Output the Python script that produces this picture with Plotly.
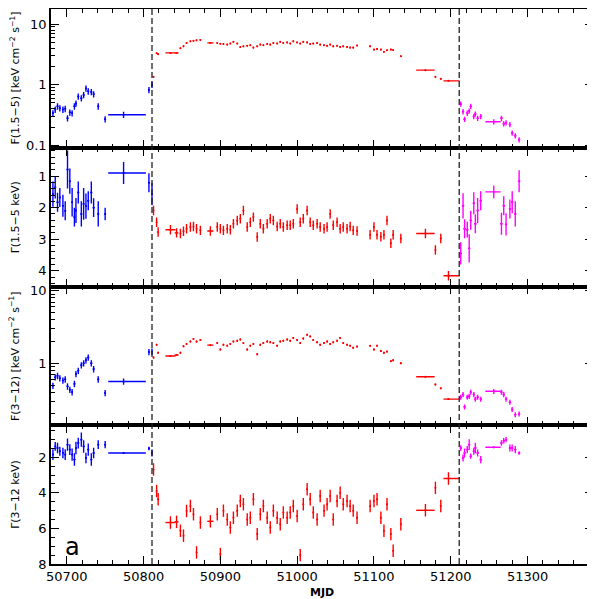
import plotly.graph_objects as go
from plotly.subplots import make_subplots

# ---- data ----
# blue: before first outburst marker
blue_mjd = [50682, 50685, 50688, 50691, 50695, 50698, 50701, 50704, 50707, 50710, 50712, 50715,
            50719, 50722, 50725, 50728, 50732, 50735, 50741, 50750, 50774, 50807, 50811]
blue_dt_lo = [1.2] * 20 + [20, 1.2, 1.2]
blue_dt_hi = [1.2] * 20 + [29, 1.2, 1.2]
blue_f1 = [0.34, 0.39, 0.44, 0.41, 0.39, 0.40, 0.28, 0.35, 0.34, 0.44, 0.49, 0.64,
           0.60, 0.68, 0.87, 0.78, 0.76, 0.70, 0.44, 0.27, 0.32, 0.82, 1.0]
blue_g1 = [1.57, 1.36, 1.83, 1.68, 1.94, 2.1, 0.79, 1.16, 1.83, 2.3, 2.09, 1.52,
           2.2, 1.88, 1.95, 1.78, 1.52, 2.0, 2.2, 2.2, 0.9, 1.21, 1.57]
blue_g1_err = [0.4, 0.35, 0.3, 0.3, 0.35, 0.3, 0.6, 0.4, 0.45, 0.3, 0.4, 0.35,
               0.4, 0.5, 0.4, 0.3, 0.35, 0.3, 0.4, 0.2, 0.35, 0.3, 0.35]
blue_f2 = [0.49, 0.64, 0.67, 0.62, 0.58, 0.60, 0.48, 0.43, 0.40, 0.52, 0.71, 0.79,
           0.94, 1.0, 1.1, 1.2, 1.0, 0.83, 0.60, 0.39, 0.56, 1.43, 1.45]
blue_g2 = [1.85, 1.39, 1.48, 1.66, 1.76, 1.85, 1.29, 1.57, 1.85, 2.13, 1.48, 1.2,
           1.01, 1.39, 2.04, 1.57, 2.13, 1.76, 1.29, 1.29, 1.76, 1.51, 1.76]
blue_g2_err = [0.3, 0.25, 0.3, 0.25, 0.3, 0.3, 0.35, 0.3, 0.35, 0.35, 0.35, 0.3,
               0.4, 0.35, 0.3, 0.35, 0.35, 0.3, 0.25, 0.2, 0.05, 0.1, 0.2]

# red: outburst
red_mjd = [50813, 50817, 50819, 50835, 50843, 50848, 50852, 50856, 50861, 50865, 50869, 50874, 50887,
           50896, 50900, 50904, 50909, 50913, 50917, 50922, 50926, 50930, 50935, 50939, 50943, 50948,
           50952, 50956, 50961, 50965, 50969, 50974, 50978, 50982, 50987, 50991, 50995, 51000, 51004,
           51008, 51013, 51017, 51021, 51026, 51030, 51035, 51039, 51043, 51047, 51052, 51056, 51060,
           51065, 51069, 51073, 51078,
           51095, 51100, 51104, 51109, 51113, 51117, 51122, 51125, 51135, 51167, 51180, 51187, 51197]
red_dt_lo = [0.5, 0.5, 0.5, 6.5, 2.5, 0.5, 0.5, 0.5, 0.5, 0.5, 0.5, 0.5, 4] + [0.5] * 43 + \
            [0.5] * 9 + [12, 0.5, 0.5, 6.5]
red_dt_hi = [0.5, 0.5, 0.5, 6.5, 2.5, 0.5, 0.5, 0.5, 0.5, 0.5, 0.5, 0.5, 4] + [0.5] * 43 + \
            [0.5] * 9 + [12, 0.5, 0.5, 14.5]
red_f1 = [1.35, 3.3, 3.2, 3.35, 3.35, 4.0, 4.3, 4.9, 5.2, 5.3, 5.4, 5.5, 4.9,
          4.9, 4.75, 4.7, 4.6, 4.8, 5.1, 4.8, 4.2, 4.3, 4.4, 4.5, 4.1, 4.3, 4.6, 4.5, 4.7, 4.6,
          4.9, 4.8, 5.1, 4.9, 5.0, 4.8, 5.2, 5.0, 4.8, 5.1, 5.0, 4.7, 4.8, 4.9, 4.6, 4.5, 4.4,
          4.6, 4.3, 4.4, 4.2, 4.3, 4.2, 4.1, 4.1, 4.45,
          4.3, 3.8, 3.9, 3.8, 3.5, 3.7, 3.8, 3.75, 2.95, 1.74, 1.35, 1.25, 1.16]
red_g1 = [2.09, 2.46, 2.77, 2.70, 2.8, 2.82, 2.75, 2.67, 2.61, 2.6, 2.67, 2.72, 2.74,
          2.61, 2.67, 2.72, 2.67, 2.70, 2.51, 2.41, 2.35, 2.09, 2.61, 2.46, 2.3, 2.93, 2.51, 2.67,
          2.51, 2.35, 2.41, 2.6, 2.51, 2.61, 2.56, 2.56, 2.51, 2.04, 2.46, 2.35, 2.09, 2.46, 2.56,
          2.51, 2.61, 2.67, 2.61, 2.2, 2.56, 2.46, 2.67, 2.61, 2.67, 2.6, 2.72, 2.74,
          2.86, 2.61, 2.86, 2.92, 2.86, 2.41, 3.13, 2.86, 2.98, 2.82, 3.34, 2.98, 4.16]
red_f2 = [1.2, 1.8, 1.4, 1.26, 1.3, 1.4, 1.72, 1.85, 2.0, 2.17, 2.0, 2.1, 1.78,
          1.9, 1.55, 1.8, 1.75, 1.85, 2.0, 2.05, 2.13, 1.9, 1.55, 1.75, 1.85, 1.33, 1.8, 1.9, 2.0,
          1.95, 1.9, 1.75, 2.0, 2.05, 2.13, 2.05, 2.24, 2.1, 1.9, 2.2, 2.48, 2.35, 2.1, 1.95, 1.8,
          1.9, 2.0, 1.85, 1.95, 2.05, 2.24, 1.9, 1.8, 1.75, 1.64, 1.7,
          1.74, 1.55, 1.75, 1.48, 1.4, 1.45, 1.07, 1.1, 1.0, 0.65, 0.51, 0.45, 0.32]
red_g2 = [2.69, 3.9, 4.36, 5.67, 5.63, 6.13, 6.41, 5.02, 4.74, 5.2, 7.35, 5.67, 5.6,
          5.2, 7.44, 5.0, 5.5, 5.95, 5.4, 5.0, 4.46, 4.64, 5.5, 5.4, 4.36, 6.32, 5.2, 4.74, 5.4,
          5.95, 5.0, 5.4, 5.76, 5.1, 5.4, 5.1, 4.74, 5.3, 7.5, 4.64, 3.8, 4.36, 5.1, 5.5, 4.18,
          5.0, 4.64, 4.18, 5.5, 4.46, 4.0, 4.64, 4.46, 4.74, 5.0, 5.4,
          4.74, 4.46, 4.36, 5.4, 6.13, 4.64, 6.32, 7.25, 5.76, 4.98, 3.72, 4.74, 3.19]

# magenta: after second marker
mag_mjd = [51213, 51216, 51218, 51221.5, 51224, 51226, 51230, 51232, 51235, 51239, 51256,
           51266, 51269, 51272, 51277, 51280, 51284, 51289]
mag_dt_lo = [1.5] * 10 + [11] + [1.5] * 7
mag_dt_hi = [1.5] * 10 + [9] + [1.5] * 7
mag_f1 = [0.48, 0.36, 0.27, 0.34, 0.37, 0.44, 0.30, 0.33, 0.28, 0.30, 0.245,
          0.28, 0.227, 0.235, 0.22, 0.16, 0.144, 0.124]
mag_g1 = [3.45, 1.94, 2.67, 2.7, 3.29, 2.4, 1.86, 2.51, 2.09, 1.78, 1.5,
          2.51, 1.94, 2.53, 2.04, 1.83, 2.2, 1.16]
mag_g1_err = [0.35, 0.4, 0.3, 0.25, 0.45, 0.3, 0.35, 0.3, 0.4, 0.3, 0.2,
              0.35, 0.3, 0.35, 0.3, 0.35, 0.4, 0.35]
mag_f2 = [0.34, 0.37, 0.25, 0.34, 0.35, 0.40, 0.37, 0.32, 0.34, 0.32, 0.41,
          0.40, 0.37, 0.32, 0.29, 0.23, 0.195, 0.2]
mag_g2 = [1.48, 2.04, 1.76, 1.57, 1.29, 1.94, 1.66, 1.48, 1.76, 2.13, 1.44,
          1.2, 1.07, 1.01, 1.48, 1.48, 1.57, 1.76]
mag_g2_err = [0.15, 0.2, 0.25, 0.2, 0.3, 0.15, 0.2, 0.3, 0.2, 0.2, 0.05,
              0.15, 0.15, 0.15, 0.2, 0.2, 0.2, 0.1]

state_changes = [50811, 51211]

BLUE, RED, MAG = "#0000ff", "#ff0000", "#ff00ff"
FONT = "DejaVu Sans"

fig = make_subplots(rows=4, cols=1, shared_xaxes=True, vertical_spacing=0)


def add_points(row, x, y, xlo, xhi, yerr, color):
    fig.add_trace(go.Scatter(
        x=x, y=y, mode="markers",
        marker=dict(size=2, color=color),
        error_x=dict(type="data", symmetric=False, array=xhi, arrayminus=xlo,
                     thickness=1.4, width=0, color=color),
        error_y=dict(type="data", array=yerr, thickness=1.4, width=0, color=color),
        showlegend=False, hoverinfo="skip"), row=row, col=1)


# fluxes: relative errors, spectral indices: absolute errors
add_points(1, blue_mjd, blue_f1, blue_dt_lo, blue_dt_hi, [v * 0.12 for v in blue_f1], BLUE)
add_points(1, red_mjd, red_f1, red_dt_lo, red_dt_hi, [v * 0.03 for v in red_f1], RED)
add_points(1, mag_mjd, mag_f1, mag_dt_lo, mag_dt_hi, [v * 0.1 for v in mag_f1], MAG)

add_points(2, blue_mjd, blue_g1, blue_dt_lo, blue_dt_hi, blue_g1_err, BLUE)
add_points(2, red_mjd, red_g1, red_dt_lo, red_dt_hi, [0.15] * len(red_mjd), RED)
add_points(2, mag_mjd, mag_g1, mag_dt_lo, mag_dt_hi, mag_g1_err, MAG)

add_points(3, blue_mjd, blue_f2, blue_dt_lo, blue_dt_hi, [v * 0.1 for v in blue_f2], BLUE)
add_points(3, red_mjd, red_f2, red_dt_lo, red_dt_hi, [v * 0.03 for v in red_f2], RED)
add_points(3, mag_mjd, mag_f2, mag_dt_lo, mag_dt_hi, [v * 0.08 for v in mag_f2], MAG)

add_points(4, blue_mjd, blue_g2, blue_dt_lo, blue_dt_hi, blue_g2_err, BLUE)
add_points(4, red_mjd, red_g2, red_dt_lo, red_dt_hi, [0.35] * len(red_mjd), RED)
add_points(4, mag_mjd, mag_g2, mag_dt_lo, mag_dt_hi, mag_g2_err, MAG)

axis_common = dict(showline=True, linecolor="black", linewidth=1.6, mirror="ticks",
                   ticks="inside", ticklen=8, tickwidth=1.3, tickcolor="black",
                   showgrid=False, zeroline=False, automargin=False,
                   tickfont=dict(family=FONT, size=13, color="black"))

for r in range(1, 5):
    fig.update_xaxes(range=[50679.5, 51385.2], tick0=50700, dtick=100, tickformat="d",
                     minor=dict(ticks="inside", ticklen=4, tick0=50700, dtick=20,
                                tickcolor="black", tickwidth=1.2),
                     showticklabels=(r == 4), row=r, col=1, **axis_common)

log_minor = [m * 10 ** e for e in (-2, -1, 0, 1) for m in range(2, 10)]
fig.update_yaxes(type="log", range=[-1.04, 1.25], tickvals=[0.1, 1, 10], ticktext=["0.1", "1", "10"],
                 minor=dict(ticks="inside", ticklen=4, tickvals=log_minor, tickcolor="black"),
                 row=1, col=1, **axis_common)
fig.update_yaxes(range=[4.5, 0.1], tickvals=[1, 2, 3, 4],
                 minor=dict(ticks="inside", ticklen=4, tick0=0, dtick=0.2, tickcolor="black"),
                 row=2, col=1, **axis_common)
fig.update_yaxes(type="log", range=[-0.856, 1.06], tickvals=[1, 10], ticktext=["1", "10"],
                 minor=dict(ticks="inside", ticklen=4, tickvals=log_minor, tickcolor="black"),
                 row=3, col=1, **axis_common)
fig.update_yaxes(range=[8, 0.2], tickvals=[2, 4, 6, 8],
                 minor=dict(ticks="inside", ticklen=4, tick0=0, dtick=0.5, tickcolor="black"),
                 row=4, col=1, **axis_common)

for xv in state_changes:
    fig.add_shape(type="line", xref="x", yref="paper", x0=xv, x1=xv, y0=0, y1=1,
                  line=dict(color="#222222", width=1.3, dash="6px,3px"))

ytitles = ["F(1.5\u22125) [keV cm<sup>\u22122</sup> s<sup>\u22121</sup>]",
           "\u0393(1.5\u22125 keV)",
           "F(3\u221212) [keV cm<sup>\u22122</sup> s<sup>\u22121</sup>]",
           "\u0393(3\u221212 keV)"]
for i, t in enumerate(ytitles):
    fig.add_annotation(text=t, xref="paper", yref="paper", x=-0.066, y=0.875 - 0.25 * i,
                       textangle=-90, showarrow=False, xanchor="center", yanchor="middle",
                       font=dict(family=FONT, size=11, color="black"))

fig.add_annotation(text="<b>MJD</b>", xref="paper", yref="paper", x=0.5, y=-0.052,
                   showarrow=False, yanchor="middle",
                   font=dict(family=FONT, size=11, color="black"))
fig.add_annotation(text="a", xref="x4", yref="y4", x=50708, y=7.06, showarrow=False,
                   font=dict(family=FONT, size=24, color="black"))

# the page puts the figure 8px in from the window corner, so size it to fit
fig.update_layout(width=587, height=591, margin=dict(l=43, r=2, t=1, b=35),
                  plot_bgcolor="white", paper_bgcolor="white")

fig.write_html("out.html")
